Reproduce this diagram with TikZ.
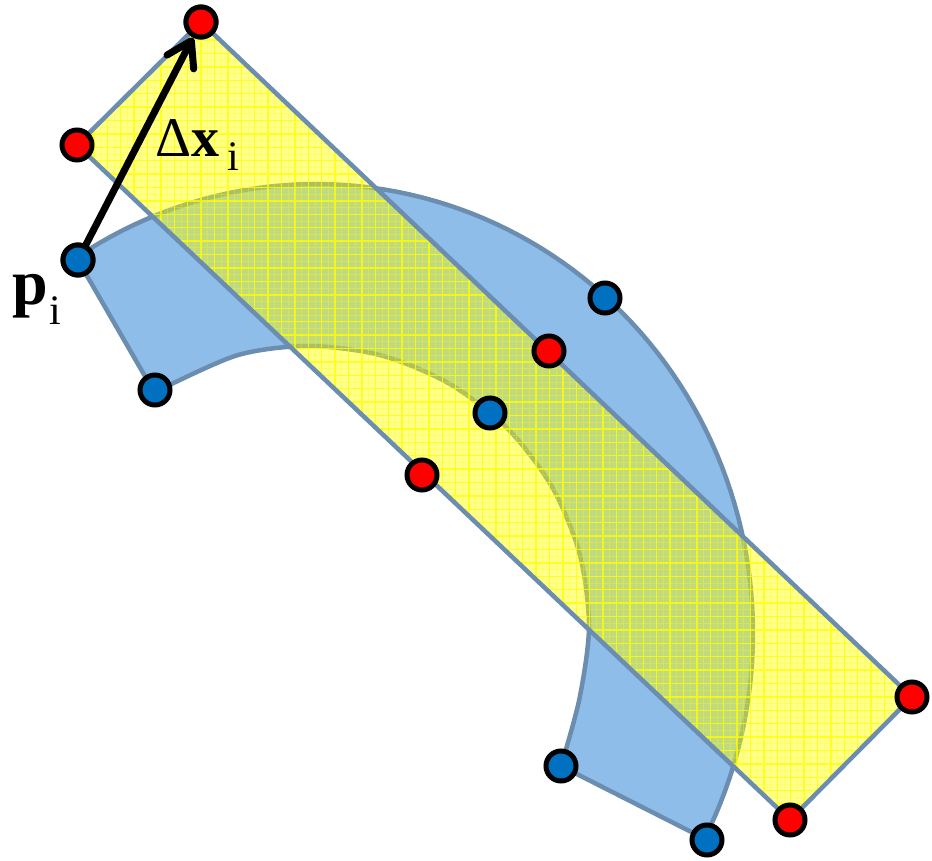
\documentclass[tikz,border=0pt]{standalone}
\usepackage{fontspec}
\setmainfont{Liberation Serif}
\usetikzlibrary{arrows.meta}
\definecolor{bandfill}{RGB}{143,189,233}
\definecolor{edgeblue}{RGB}{106,141,176}
\definecolor{dotblue}{RGB}{0,112,192}
\definecolor{dotred}{RGB}{255,0,0}
\definecolor{rectyellow}{RGB}{255,255,0}
\begin{document}
\begin{tikzpicture}[x=1pt,y=-1pt,
  dot/.style={circle,draw=black,line width=5pt,minimum size=30pt,inner sep=0pt},
  bdot/.style={dot,fill=dotblue},
  rdot/.style={dot,fill=dotred},
  outline/.style={draw=edgeblue,line width=4.5pt,line join=round},
  lbl/.style={inner sep=0pt,anchor=base west,text=black}]
\useasboundingbox (0,0) rectangle (932,861);
% rectangle corners
\coordinate (c1) at (201,22);
\coordinate (c2) at (912,697);
\coordinate (c3) at (790,820);
\coordinate (c4) at (77,145);
% curved band
\path[fill=bandfill,outline]
  plot[domain=-123.25:27.26,samples=90] ({316+437*cos(\x)},{633+449*sin(\x)})
  -- plot[smooth] coordinates {(561,766) (579.5,698.5) (589,626) (579.5,553.5) (551.5,486) (507,428) (449,383.5) (381.5,355.5) (309,346) (236.5,355.5) (154.4,392.5)}
  -- cycle;
% yellow rectangle
\fill[rectyellow,opacity=0.45] (c1)--(c2)--(c3)--(c4)--cycle;
\begin{scope}
  \clip (c1)--(c2)--(c3)--(c4)--cycle;
  \draw[rectyellow,opacity=0.3,line width=0.8pt,step=6.7pt] (0,861) grid (932,0);
  \draw[rectyellow,opacity=0.75,line width=1.4pt,step=13.4pt] (0,861) grid (932,0);
\end{scope}
\draw[outline] (c1)--(c2)--(c3)--(c4)--cycle;
% dots
\node[rdot] (r1) at (c1) {};
\node[rdot] (r4) at (c4) {};
\node[rdot] (r2) at (c2) {};
\node[rdot] (r3) at (c3) {};
\node[rdot] (rm1) at (549,351) {};
\node[rdot] (rm2) at (422,475) {};
\node[bdot] (b1) at (78,260) {};
\node[bdot] (b2) at (155,390) {};
\node[bdot] (bm1) at (605,298) {};
\node[bdot] (bm2) at (490,413) {};
\node[bdot] (b3) at (561,766) {};
\node[bdot] (b4) at (707,840) {};
% arrow
\draw[line width=7pt,line cap=round,-{Straight Barb[length=24pt,width=30pt,round]}] (b1) -- (r1);
\node[bdot] at (b1) {};
\node[rdot] at (r1) {};
% labels
\node[lbl,font=\fontsize{56}{56}\selectfont] (dx) at (155,157) {Δ\textbf{x}};
\node[lbl,font=\fontsize{42}{42}\selectfont] (dxi) at (227,171) {i};
\node[lbl,font=\fontsize{64}{64}\selectfont\bfseries] (pp) at (12,305) {p};
\node[lbl,font=\fontsize{42}{42}\selectfont] (ppi) at (49,324) {i};
\end{tikzpicture}
\end{document}
